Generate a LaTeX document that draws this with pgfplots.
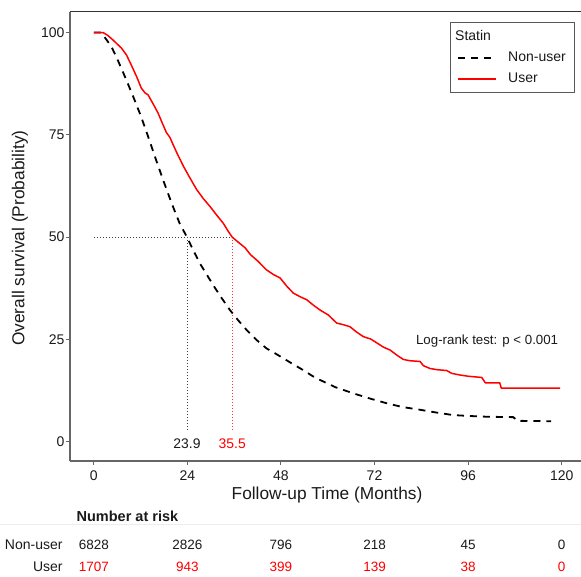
\documentclass[border=0pt]{standalone}
\usepackage{pgfplots}
\pgfplotsset{compat=1.18}
\usepackage{fontspec}
\setmainfont{Liberation Sans}
\definecolor{txt}{HTML}{1A1A1A}
\definecolor{spine}{HTML}{666666}

\begin{document}
\begin{tikzpicture}
\useasboundingbox (-70pt,-115pt) rectangle (511pt,461pt);
\begin{axis}[
  scale only axis, width=511pt, height=449.3pt,
  xmin=-6.1, xmax=124.95, ymin=-4.72, ymax=105.1,
  axis lines*=left, tick pos=left, tick align=outside,
  axis line style={spine, line width=1.3pt},
  major tick length=4pt,
  every tick/.style={spine, line width=1pt},
  xtick={0,24,48,72,96,120}, ytick={0,25,50,75,100},
  ticklabel style={font=\fontsize{14}{16}\selectfont, text=txt},
  xticklabel style={yshift=-2pt},
  yticklabel style={xshift=2pt},
  /pgf/number format/assume math mode=true,
  xlabel={Follow-up Time (Months)},
  ylabel={Overall survival (Probability)},
  label style={font=\fontsize{17.3}{20}\selectfont, text=txt},
  xlabel style={at={(axis description cs:0.503,-0.0757)}, anchor=center},
  ylabel style={at={(axis description cs:-0.098,0.496)}, anchor=center},
  clip=false,
  legend style={at={(axis description cs:0.7436,0.977)}, anchor=north west,
    draw=black!65, line width=0.8pt, font=\fontsize{14}{16}\selectfont,
    text=txt, inner xsep=7pt, inner ysep=6pt, row sep=6pt,
    nodes={inner sep=2pt}},
  legend cell align=left,
  legend image code/.code={\draw[#1] (0pt,0pt) -- (38pt,0pt); \path (47pt,0pt);},
]
\addlegendimage{empty legend}
\addlegendentry{\makebox[0pt][l]{\hspace{-53pt}Statin}}

% median guides
\draw[black!75, line width=0.8pt, dash pattern=on 1pt off 2pt]
  (axis cs:0,50) -- (axis cs:35.5,50);
\draw[black!75, line width=0.8pt, dash pattern=on 1pt off 2pt]
  (axis cs:23.9,50) -- (axis cs:23.9,2.9);
\draw[red!80, line width=0.8pt, dash pattern=on 1pt off 2pt]
  (axis cs:35.5,50) -- (axis cs:35.5,2.9);

% Non-user
\addplot[black, line width=1.8pt, dash pattern=on 7pt off 6pt, line join=round]
  coordinates {
    (0,100) (1.8,100) (3,98.6) (4.5,96.6) (6,93.6) (8,89.2) (10,84.6)
    (12,79.8) (14,74.4) (16,68.8) (18,63.4) (20,58.2) (22,53.4) (23.9,50)
    (25.5,46.8) (27.2,43.6) (29,40.8) (30.6,38.3) (32.8,35.1) (34.9,32.2)
    (37,29.7) (39.2,27.3) (41.7,24.9) (44.3,22.8) (46.5,21.6) (48.6,20.4)
    (51,19) (53.7,17.5) (56,16.1) (58,15.1) (62,13.3) (66.6,11.8) (71,10.5)
    (75.1,9.4) (79,8.5) (83.7,7.8) (88,7.1) (92.2,6.5) (96,6.3) (100.8,6.1)
    (107.6,6.0) (108.6,5.1) (117.3,5.0)
  };
\addlegendentry{Non-user}

% User
\addplot[red, line width=1.5pt, line join=round]
  coordinates {
    (0,100) (2.4,100) (3.6,99.3) (4.9,98.2) (7.1,96.2) (8.4,94.5) (9.6,92.1)
    (11,89.2) (12.2,86.4) (13.2,85.2) (13.9,84.8) (15.2,82.6) (16.5,80.3)
    (17.6,77.8) (18.6,75.6) (19.5,74.4) (21.2,70.8) (23,67.3) (24.7,64.4)
    (26.4,61.6) (28.1,59.4) (29.8,57.5) (31.5,55.4) (33.2,53.4) (34.5,51.4)
    (35.5,50) (37,48.8) (38.8,47.4) (40.2,45.7) (42,44.2) (44.3,42)
    (46,40.9) (47.8,40) (49.5,38) (51.2,36.3) (53,35.4) (54.6,34.7)
    (56.4,33.3) (58,32.2) (60.1,31) (62.3,29) (64,28.6) (65.7,28.1)
    (67.4,26.8) (69.1,25.7) (71,25.1) (72.5,24.2) (74.3,23.1) (76,22.4)
    (77.8,21.1) (79.4,20.1) (81,19.8) (83.7,19.6) (84.5,18.6) (86.2,17.9)
    (88,17.6) (90.5,17.4) (91.8,16.7) (93.9,16.3) (96,16) (99.5,15.7)
    (100.4,14.4) (104.1,14.4) (104.5,13.1) (119.6,13.1)
  };
\addlegendentry{User}

% panel top border
\draw[black!80, line width=1pt] (rel axis cs:0,1) -- (rel axis cs:1,1);

% medians and test
\node[font=\fontsize{13.9}{16}\selectfont, text=txt] at (axis cs:23.9,-0.4) {23.9};
\node[font=\fontsize{13.9}{16}\selectfont, text=red] at (axis cs:35.5,-0.4) {35.5};
\node[anchor=east, font=\fontsize{13.3}{15}\selectfont, text=txt]
  at (axis cs:120,24.5) {Log-rank test: p < 0.001};

% number at risk table
\node[anchor=west, font=\bfseries\fontsize{14.5}{16}\selectfont, text=txt]
  at (axis cs:-5.3,-18.3) {Number at risk};
\draw[black!7, line width=1pt] (axis cs:-24.1,-20.3) -- (axis cs:124.95,-20.3);
\node[anchor=east, font=\fontsize{14}{16}\selectfont, text=txt] at (axis cs:-7.1,-25.3) {Non-user};
\node[anchor=east, font=\fontsize{14}{16}\selectfont, text=txt] at (axis cs:-7.1,-30.6) {User};
\node[font=\fontsize{13.5}{16}\selectfont, text=txt] at (axis cs:0,-25.3) {6828};
\node[font=\fontsize{13.5}{16}\selectfont, text=txt] at (axis cs:24,-25.3) {2826};
\node[font=\fontsize{13.5}{16}\selectfont, text=txt] at (axis cs:48,-25.3) {796};
\node[font=\fontsize{13.5}{16}\selectfont, text=txt] at (axis cs:72,-25.3) {218};
\node[font=\fontsize{13.5}{16}\selectfont, text=txt] at (axis cs:96,-25.3) {45};
\node[font=\fontsize{13.5}{16}\selectfont, text=txt] at (axis cs:120,-25.3) {0};
\node[font=\fontsize{13.5}{16}\selectfont, text=red] at (axis cs:0,-30.6) {1707};
\node[font=\fontsize{13.5}{16}\selectfont, text=red] at (axis cs:24,-30.6) {943};
\node[font=\fontsize{13.5}{16}\selectfont, text=red] at (axis cs:48,-30.6) {399};
\node[font=\fontsize{13.5}{16}\selectfont, text=red] at (axis cs:72,-30.6) {139};
\node[font=\fontsize{13.5}{16}\selectfont, text=red] at (axis cs:96,-30.6) {38};
\node[font=\fontsize{13.5}{16}\selectfont, text=red] at (axis cs:120,-30.6) {0};
\end{axis}
\end{tikzpicture}
\end{document}
